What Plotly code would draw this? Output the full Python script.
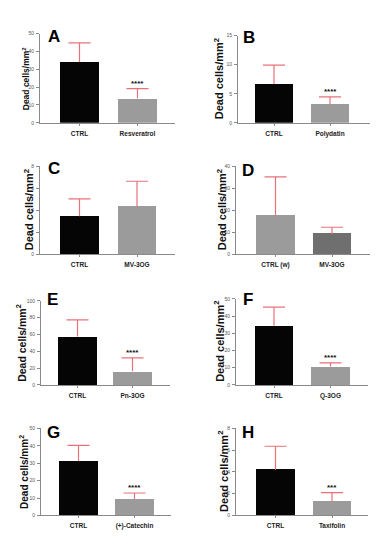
import plotly.graph_objects as go

W, H = 378, 550

# ---- data ----
panel_letters = ["A", "B", "C", "D", "E", "F", "G", "H"]
cats_A = ["CTRL", "Resveratrol"]; mean_A = [34.1, 13.7]; top_A = [44.9, 19.2]; stars_A = ["", "****"]
cats_B = ["CTRL", "Polydatin"]; mean_B = [6.7, 3.25]; top_B = [9.95, 4.45]; stars_B = ["", "****"]
cats_C = ["CTRL", "MV-3OG"]; mean_C = [3.45, 4.35]; top_C = [5.04, 6.64]; stars_C = ["", ""]
cats_D = ["CTRL (w)", "MV-3OG"]; mean_D = [17.7, 9.4]; top_D = [35.2, 12.3]; stars_D = ["", ""]
cats_E = ["CTRL", "Pn-3OG"]; mean_E = [57.6, 16.1]; top_E = [77.3, 32.1]; stars_E = ["", "****"]
cats_F = ["CTRL", "Q-3OG"]; mean_F = [34.3, 10.7]; top_F = [45.2, 12.8]; stars_F = ["", "****"]
cats_G = ["CTRL", "(+)-Catechin"]; mean_G = [31.3, 9.3]; top_G = [40.3, 12.9]; stars_G = ["", "****"]
cats_H = ["CTRL", "Taxifolin"]; mean_H = [4.2, 1.3]; top_H = [6.36, 2.09]; stars_H = ["", "***"]
ymax = [50, 15, 8, 40, 100, 50, 50, 8]
dticks = [10, 5, 2, 10, 20, 10, 10, 2]

panels = [
    (cats_A, mean_A, top_A, stars_A),
    (cats_B, mean_B, top_B, stars_B),
    (cats_C, mean_C, top_C, stars_C),
    (cats_D, mean_D, top_D, stars_D),
    (cats_E, mean_E, top_E, stars_E),
    (cats_F, mean_F, top_F, stars_F),
    (cats_G, mean_G, top_G, stars_G),
    (cats_H, mean_H, top_H, stars_H),
]

# ---- layout geometry (pixels) ----
# x0, x1, center0, center1, ytop, ybot, title_x, title_size, letter_x, letter_y
geom = [
    (32, 167, 71.5, 129.5, 23, 113, 18, 8.5, 46, 26),
    (230, 365, 266, 322, 25, 113, 211, 11, 241, 27),
    (32, 167, 71.5, 129, 157, 246, 21, 11, 45.5, 159.5),
    (228, 362, 267.5, 324, 157, 246, 214, 11, 240, 161.5),
    (33, 162, 69.5, 124.5, 293, 378, 13, 10.5, 44, 292),
    (228, 360, 266, 322.5, 291, 378, 211, 11, 240, 291.5),
    (33, 163, 70.5, 126.5, 422, 510, 16, 10, 45.5, 426),
    (228, 360, 267.5, 324, 422, 510, 215, 11, 240, 426.5),
]

BLACK = "#050505"
GRAY = "#9b9b9b"
DARK = "#6f6f6f"
ERR = "#e8707a"
AXC = "#8a8a8a"
FONT = "Liberation Sans, Arial, sans-serif"
CAP_PX = 11  # half-width of error cap in pixels

fig = go.Figure()
annotations = []
layout = {}

for i, ((cats, means, tops, stars), g) in enumerate(zip(panels, geom)):
    x0, x1, c0, c1, yt, yb, tx, ts, lx, ly = g
    sp = c1 - c0
    xr = [(x0 - c0) / sp, (x1 - c0) / sp]
    bw = 38.5 / sp
    hw = CAP_PX / sp
    n = i + 1
    xa = "x" if n == 1 else f"x{n}"
    ya = "y" if n == 1 else f"y{n}"
    colors = [GRAY, DARK] if i == 3 else [BLACK, GRAY]
    xs = list(range(len(cats)))
    fig.add_trace(go.Bar(
        x=xs, y=means, width=bw, marker=dict(color=colors, line=dict(width=0)),
        xaxis=xa, yaxis=ya, showlegend=False, hoverinfo="skip",
    ))
    # one-sided (upper) error bars: stem from mean to top + cap at top
    ex, ey = [], []
    for xv, m, t in zip(xs, means, tops):
        ex += [xv, xv, None, xv - hw, xv + hw, None]
        ey += [m, t, None, t, t, None]
    fig.add_trace(go.Scatter(
        x=ex, y=ey, mode="lines", line=dict(color=ERR, width=1.2),
        xaxis=xa, yaxis=ya, showlegend=False, hoverinfo="skip", cliponaxis=False,
    ))
    layout["xaxis" if n == 1 else f"xaxis{n}"] = dict(
        domain=[x0 / W, x1 / W], range=xr, anchor=ya,
        tickvals=xs, ticktext=[f"<b>{c}</b>" for c in cats],
        showline=True, linecolor=AXC, linewidth=1, ticks="outside",
        ticklen=2, tickcolor=AXC, ticklabelstandoff=2,
        tickfont=dict(family=FONT, size=6.5, color="#222"),
        showgrid=False, zeroline=False, fixedrange=True,
    )
    layout["yaxis" if n == 1 else f"yaxis{n}"] = dict(
        domain=[1 - yb / H, 1 - yt / H], range=[0, ymax[i]], anchor=xa,
        dtick=dticks[i], showline=True, linecolor=AXC, linewidth=1,
        ticks="outside", ticklen=3, tickcolor=AXC, ticklabelstandoff=1,
        tickfont=dict(family=FONT, size=5, color="#555"),
        showgrid=False, zeroline=False, fixedrange=True,
    )
    # axis title
    annotations.append(dict(
        x=tx / W, y=1 - (yt + yb) / 2 / H, xref="paper", yref="paper",
        text="<b>Dead cells/mm<sup>2</sup></b>", textangle=-90, showarrow=False,
        xanchor="center", yanchor="middle",
        font=dict(family=FONT, size=ts, color="#111"),
    ))
    # panel letter
    annotations.append(dict(
        x=lx / W, y=1 - ly / H, xref="paper", yref="paper",
        text=f"<b>{panel_letters[i]}</b>", showarrow=False,
        xanchor="center", yanchor="middle",
        font=dict(family=FONT, size=17, color="#000"),
    ))
    # stars
    for j, s in enumerate(stars):
        if s:
            annotations.append(dict(
                x=xs[j], y=tops[j], xref=xa, yref=ya, text=f"<b>{s}</b>",
                showarrow=False, xanchor="center", yanchor="bottom", yshift=-1,
                font=dict(family=FONT, size=8, color="#111"),
            ))

fig.update_layout(
    width=W, height=H, margin=dict(l=0, r=0, t=0, b=0),
    paper_bgcolor="white", plot_bgcolor="white",
    annotations=annotations, bargap=0, **layout,
)
fig.write_html("out.html")
